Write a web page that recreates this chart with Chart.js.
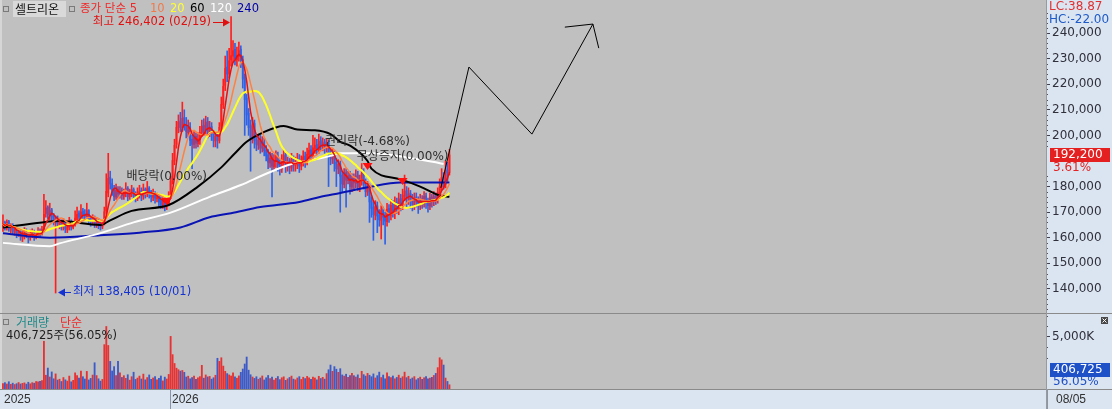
<!DOCTYPE html>
<html lang="ko">
<head>
<meta charset="utf-8">
<title>셀트리온 일봉</title>
<script src="https://cdn.jsdelivr.net/npm/chart.js@4.4.1/dist/chart.umd.min.js"></script>
<style>
  html, body { margin: 0; padding: 0; background: #c0c0c0; overflow: hidden; }
  #wrap { position: relative; width: 1112px; height: 409px; }
  canvas { position: absolute; left: 0; }
  #priceChart { top: 0; }
  #volChart { top: 313px; }
</style>
</head>
<body>
<div id="wrap">
  <canvas id="priceChart" width="1112" height="313"></canvas>
  <canvas id="volChart" width="1112" height="96"></canvas>
</div>
<script>
// 일봉 시가/고가/저가/종가 (단위: 천원)
const opens = [
  164.0, 165.8, 163.8, 166.2, 163.0, 164.8, 162.0, 163.2, 161.0, 162.3,
  160.2, 161.2, 162.8, 161.3, 160.0, 161.0, 162.2, 160.3, 161.2, 162.8,
  161.8, 163.5, 169.5, 171.8, 168.5, 170.8, 168.2, 166.0, 167.5, 165.0,
  166.2, 164.2, 165.8, 163.2, 164.0, 166.2, 164.0, 165.2, 167.0, 169.5,
  168.2, 170.3, 169.2, 168.2, 170.5, 167.3, 166.0, 167.8, 165.2, 166.8,
  165.5, 164.2, 165.5, 170.5, 177.5, 183.5, 181.0, 178.8, 176.0, 178.8,
  176.8, 178.3, 176.2, 177.3, 179.2, 176.0, 177.2, 178.8, 176.8, 175.3,
  177.2, 178.3, 176.3, 178.8, 177.0, 179.2, 177.8, 175.8, 177.2, 175.3,
  176.2, 174.3, 172.8, 174.8, 172.5, 173.2, 176.5, 182.5, 190.0, 196.5,
  203.2, 205.5, 203.0, 206.8, 204.2, 201.0, 203.3, 198.3, 196.5, 199.5,
  196.8, 198.3, 201.2, 203.8, 202.0, 205.3, 201.2, 203.3, 200.8, 197.8,
  199.8, 198.0, 203.5, 212.0, 219.5, 226.5, 224.0, 229.5, 231.0, 233.5,
  229.5, 230.8, 233.5, 229.5, 222.5, 214.5, 208.5, 203.5, 199.0, 204.5,
  198.5, 196.2, 198.3, 195.0, 197.3, 194.2, 192.3, 189.2, 191.2, 187.8,
  189.8, 191.8, 188.3, 186.8, 189.8, 192.2, 188.0, 189.8, 187.2, 190.8,
  188.3, 188.8, 190.7, 188.0, 189.8, 191.8, 190.0, 192.3, 194.2, 192.3,
  194.8, 196.3, 194.3, 197.8, 195.8, 197.3, 195.2, 196.8, 193.3, 190.8,
  192.8, 189.3, 186.8, 188.8, 184.3, 180.8, 185.3, 182.3, 184.3, 179.8,
  183.2, 181.2, 184.3, 179.8, 182.3, 185.3, 181.2, 177.8, 179.8, 174.3,
  171.8, 168.8, 172.3, 168.8, 166.8, 170.8, 168.2, 166.3, 171.3, 168.8,
  172.8, 169.8, 173.8, 171.3, 175.2, 172.8, 176.2, 178.3, 175.2, 177.3,
  174.8, 172.8, 175.8, 174.2, 172.3, 175.2, 173.3, 176.2, 174.3, 172.3,
  175.8, 174.3, 176.3, 174.8, 177.2, 179.8, 183.8, 180.8, 186.3, 185.5
];
const highs = [
  169.0, 166.5, 167.0, 166.8, 165.5, 165.5, 164.5, 164.0, 163.5, 163.0,
  162.5, 164.0, 163.5, 162.0, 163.0, 163.5, 163.0, 162.5, 164.0, 163.5,
  164.5, 177.0, 174.5, 172.5, 173.5, 171.5, 169.5, 168.5, 168.5, 167.5,
  167.0, 167.5, 166.5, 165.5, 168.0, 167.0, 166.5, 170.5, 172.0, 170.5,
  173.0, 171.5, 171.0, 173.5, 171.0, 168.5, 169.0, 168.5, 168.0, 167.5,
  166.5, 167.0, 172.0, 185.0, 193.0, 186.0, 183.0, 180.5, 181.0, 180.0,
  180.0, 179.5, 179.0, 181.5, 180.0, 179.0, 180.5, 179.5, 178.0, 179.5,
  180.5, 179.5, 181.0, 179.5, 182.0, 180.0, 178.5, 179.0, 178.0, 177.5,
  177.0, 176.0, 176.0, 175.5, 175.0, 178.0, 184.0, 193.0, 198.5, 205.5,
  208.0, 209.0, 213.0, 210.0, 207.0, 206.0, 205.0, 200.0, 201.5, 201.0,
  201.0, 203.5, 206.0, 206.5, 207.5, 207.0, 205.5, 205.0, 202.0, 201.5,
  201.0, 205.0, 215.0, 222.0, 231.0, 233.0, 234.0, 246.402, 237.0, 236.0,
  234.5, 236.5, 235.0, 231.0, 224.0, 216.0, 210.5, 206.0, 207.0, 206.0,
  200.0, 200.5, 200.0, 199.5, 199.0, 196.0, 194.5, 193.5, 193.0, 192.5,
  194.0, 193.5, 190.5, 192.5, 194.5, 193.0, 191.5, 191.0, 193.0, 192.0,
  191.5, 193.0, 192.5, 192.0, 194.0, 193.5, 195.0, 197.0, 196.0, 200.0,
  199.0, 198.5, 200.5, 199.5, 199.0, 198.5, 198.5, 198.0, 195.0, 195.0,
  194.0, 191.0, 190.5, 190.0, 186.0, 187.0, 187.0, 186.0, 186.0, 185.0,
  185.0, 186.5, 186.0, 184.5, 189.0, 187.0, 183.0, 182.0, 181.0, 176.0,
  174.0, 174.5, 174.0, 171.0, 172.5, 172.0, 170.0, 173.5, 173.0, 175.0,
  174.5, 176.0, 175.5, 177.5, 177.0, 179.0, 184.5, 180.0, 179.5, 178.5,
  177.0, 177.5, 177.5, 176.0, 177.0, 176.5, 178.0, 177.5, 175.5, 177.5,
  177.0, 178.0, 177.5, 179.5, 183.0, 187.0, 185.5, 190.0, 189.5, 194.5
];
const lows = [
  162.5, 163.0, 163.0, 162.5, 162.0, 161.5, 161.0, 160.0, 160.5, 159.0,
  158.5, 159.5, 160.0, 158.0, 159.0, 160.0, 159.0, 159.5, 160.5, 160.5,
  161.0, 163.0, 168.0, 167.5, 167.0, 166.5, 165.0, 138.405, 164.0, 163.5,
  163.0, 163.0, 162.0, 162.0, 163.0, 163.0, 163.5, 164.5, 166.0, 166.5,
  167.0, 167.5, 167.0, 167.5, 165.5, 164.5, 165.0, 164.0, 164.0, 163.5,
  163.0, 163.5, 165.0, 169.5, 176.0, 179.0, 176.5, 174.5, 175.0, 175.5,
  175.5, 175.0, 175.0, 176.0, 174.5, 175.0, 176.0, 175.0, 174.0, 174.5,
  175.5, 174.5, 175.0, 175.5, 176.0, 175.5, 174.0, 174.5, 173.5, 174.0,
  172.0, 171.5, 171.5, 170.5, 171.0, 172.5, 175.5, 181.0, 188.5, 195.0,
  201.0, 201.5, 201.5, 202.0, 199.0, 199.5, 196.0, 187.0, 195.0, 195.0,
  195.5, 196.5, 199.5, 200.0, 200.5, 199.0, 199.5, 198.0, 195.5, 195.5,
  195.0, 197.0, 202.0, 210.5, 217.5, 221.0, 222.5, 227.0, 228.5, 227.5,
  227.0, 229.0, 226.5, 218.5, 200.0, 204.0, 200.0, 186.0, 197.0, 195.0,
  194.0, 194.5, 193.0, 193.5, 192.0, 190.0, 187.0, 187.5, 176.0, 186.5,
  187.5, 186.0, 184.5, 185.5, 188.0, 185.5, 186.0, 185.0, 186.0, 186.0,
  186.0, 187.0, 185.5, 186.5, 188.0, 187.5, 188.5, 190.5, 190.0, 191.0,
  193.0, 192.5, 193.0, 194.0, 194.0, 193.0, 193.5, 180.0, 188.5, 189.0,
  186.0, 180.0, 185.0, 170.0, 178.0, 179.5, 172.0, 181.0, 177.0, 178.0,
  179.0, 179.5, 178.5, 178.0, 180.5, 179.0, 176.0, 176.5, 166.0, 168.0,
  159.0, 167.0, 162.0, 164.5, 159.5, 165.0, 157.5, 164.5, 166.0, 167.0,
  168.0, 167.5, 169.5, 169.0, 170.5, 171.0, 174.5, 172.0, 173.0, 171.5,
  170.5, 171.0, 172.0, 169.5, 171.0, 171.5, 172.0, 171.5, 170.0, 171.0,
  172.0, 172.5, 173.0, 173.5, 175.5, 178.5, 179.0, 179.5, 182.0, 184.5
];
const closes = [
  165.5, 164.0, 166.0, 163.5, 164.5, 162.5, 163.0, 161.5, 162.0, 160.5,
  161.0, 162.5, 161.0, 160.0, 161.5, 162.0, 160.5, 161.0, 162.5, 162.0,
  163.0, 169.0, 171.5, 169.0, 170.5, 168.0, 166.5, 167.0, 165.5, 166.0,
  164.5, 165.5, 163.5, 164.0, 166.0, 164.5, 165.0, 167.5, 169.0, 168.0,
  170.0, 169.0, 168.5, 170.5, 167.0, 166.0, 167.5, 165.5, 166.5, 165.0,
  164.5, 165.5, 170.0, 178.0, 183.0, 181.0, 178.5, 176.0, 178.5, 177.0,
  178.0, 176.5, 177.5, 179.0, 176.0, 177.0, 178.5, 176.5, 175.5, 177.5,
  178.0, 176.5, 178.5, 177.0, 179.0, 177.5, 176.0, 177.0, 175.5, 176.0,
  174.0, 173.0, 174.5, 172.5, 173.5, 176.0, 182.0, 190.0, 196.0, 203.0,
  205.0, 203.0, 206.5, 204.0, 201.5, 203.0, 198.0, 196.5, 199.0, 197.0,
  198.5, 201.0, 203.5, 202.0, 205.0, 201.5, 203.0, 200.5, 198.0, 199.5,
  198.0, 203.0, 212.0, 219.0, 226.0, 224.0, 229.0, 231.0, 233.0, 230.0,
  231.0, 233.0, 229.0, 222.0, 214.0, 208.0, 203.0, 199.0, 204.0, 198.0,
  196.5, 198.0, 195.0, 197.0, 194.0, 192.0, 189.5, 191.0, 188.0, 190.0,
  191.5, 188.5, 187.0, 190.0, 192.0, 188.0, 189.5, 187.5, 190.5, 188.5,
  189.0, 190.5, 188.0, 190.0, 191.5, 190.0, 192.5, 194.0, 192.5, 195.0,
  196.0, 194.5, 197.5, 196.0, 197.0, 195.5, 196.5, 193.0, 191.0, 192.5,
  189.0, 187.0, 188.5, 184.0, 181.0, 185.0, 182.5, 184.0, 180.0, 183.0,
  181.5, 184.0, 180.0, 182.5, 185.0, 181.0, 178.0, 179.5, 174.0, 171.5,
  169.0, 172.0, 168.5, 167.0, 170.5, 168.0, 166.5, 171.0, 169.0, 172.5,
  170.0, 173.5, 171.5, 175.0, 173.0, 176.5, 178.0, 175.5, 177.0, 174.5,
  173.0, 175.5, 174.0, 172.5, 175.0, 173.5, 176.0, 174.0, 172.5, 175.5,
  174.5, 176.0, 175.0, 177.5, 180.0, 183.5, 181.0, 186.0, 185.5, 192.2
];
// 거래량 (단위: 천주)
const volumes = [
  520, 610, 480, 700, 450, 560, 430, 510, 620, 480,
  540, 590, 470, 650, 500, 610, 560, 720, 680, 740,
  820, 4580, 1320, 2010, 1150, 1640, 980, 1450, 860, 940,
  720, 1100, 880, 760, 1240, 690, 830, 1550, 1280, 1060,
  1720, 1180, 960, 1690, 870, 1020, 1340, 2520, 1290, 980,
  760, 920, 4260, 6000, 4180, 2650, 1730, 2150, 1300, 2650,
  1560, 1110, 1280, 1020, 1370, 850, 1180, 1610, 920, 1050,
  1240, 960, 1430, 880, 1100, 1350, 930, 1060, 1190, 870,
  1020, 1250, 780, 1140, 960, 1400, 5050, 3300, 2450, 2000,
  1850, 1720, 1780, 1600, 1150, 1230, 980, 1100, 1250, 930,
  1080, 1190, 2270, 1040, 1350, 1160, 1210, 950, 1080, 1320,
  2950, 2650, 3000, 2200, 1700, 1480, 1350, 1250, 1550, 1180,
  1040, 1260, 1600, 1920, 2400, 3070, 1810, 1370, 1150, 1020,
  1180, 940, 1060, 1250, 870, 1080, 1300, 990, 1150, 860,
  1020, 1200, 900, 1080, 1170, 830, 980, 1110, 1240, 950,
  880, 1060, 1190, 920, 1130, 1000, 1210, 1080, 940, 1150,
  1060, 880, 1220, 1010, 1120, 950, 1480, 1850, 2300, 1700,
  2150, 1900, 1600, 1950, 1350, 1240, 1420, 1110, 1300, 1500,
  1280, 1150, 1360, 1020, 1700, 1380, 1240, 1500, 1320, 1180,
  1450, 1060, 1280, 1620, 1100, 1340, 980, 1560, 1200, 1090,
  1250, 980, 1110, 1330, 1040, 1180, 1620, 1090, 1220, 950,
  1060, 1190, 880, 1010, 1140, 930, 1080, 1200, 970, 1060,
  1120, 1300, 1500, 2050, 3000, 2800, 2300, 1050, 725.6, 406.725
];

// 장기 이동평균 (60/120/240일) : 그림에서 읽은 값 (봉 번호, 천원)
const ma60Idx = [0, 20, 29, 50, 55, 66, 85, 100, 112, 119, 125, 133, 144, 151, 160, 168, 173, 178, 187, 189, 204, 214, 224, 229];
const ma60Val = [164.0, 166.0, 166.5, 165.0, 166.8, 170.5, 172.8, 180.0, 187.5, 193.0, 197.5, 201.0, 203.7, 202.3, 202.0, 200.5, 197.5, 196.0, 190.0, 187.0, 182.8, 180.0, 176.5, 176.0];
const ma120Idx = [0, 24, 29, 50, 67, 86, 106, 122, 135, 148, 161, 168, 173, 190, 207, 222, 226];
const ma120Val = [158.0, 156.7, 157.8, 161.8, 166.0, 169.8, 176.0, 180.6, 185.0, 188.8, 190.8, 192.0, 193.0, 193.0, 191.4, 189.5, 188.8];
const ma240Idx = [0, 24, 50, 70, 91, 106, 117, 132, 152, 163, 173, 178, 187, 204, 229];
const ma240Val = [161.8, 160.0, 161.0, 162.0, 164.0, 168.0, 169.6, 172.0, 174.0, 176.0, 177.5, 178.3, 179.7, 181.6, 181.6];

// 사용자 추세선 (봉 번호, 천원)
const drawIdx = [224.6, 239.0, 271.3, 302.6];
const drawVal = [179.5, 226.7, 200.5, 243.5];
const arrowIdx = [288.2, 302.6, 305.6];
const arrowVal = [242.3, 243.5, 234.1];

// 이벤트 (봉 번호, 표시 가격 천원, 문구)
const evIdx = [84, 187, 205];
const evVal = [175.5, 189.2, 183.4];
const evText = ['배당락(0.00%)', '권리락(-4.68%)', '무상증자(0.00%)'];

// 축 눈금
const priceTicks = [140000, 150000, 160000, 170000, 180000, 190000, 200000, 210000, 220000, 230000, 240000];
const volTicks = [5000];

const stockName = '셀트리온';
const hiDate = '02/19';
const loDate = '10/01';
const yearIdx = [0, 86];
const yearText = ['2025', '2026'];
const lastDate = '08/05';
const lcText = 'LC:38.87';
const hcText = 'HC:-22.00';
const maLegend = ['종가 단순 5', '10', '20', '60', '120', '240'];

// ---------------------------------------------------------------
const KFONT = '"Noto Sans CJK KR", sans-serif';
const NFONT = '"DejaVu Sans", "Noto Sans CJK KR", sans-serif';
const AXIS_BG = '#dbe5f1';
const PLOT_BG = '#c0c0c0';
const UP = '#ff1e1e';
const DOWN = '#2f62e6';

const n = closes.length;
const idx = closes.map((_, i) => i);
const isUp = idx.map(i => closes[i] >= opens[i]);
const fmt = v => Math.round(v).toLocaleString('en-US');

function movingAvg(len) {
  return idx.map(i => {
    const s = Math.max(0, i - len + 1);
    let sum = 0;
    for (let k = s; k <= i; k++) sum += closes[k];
    return { x: i, y: sum / (i - s + 1) * 1000 };
  });
}
const pts = (xs, ys) => xs.map((x, i) => ({ x: x, y: ys[i] * 1000 }));

function txt(ctx, s, x, y, color, font, align) {
  ctx.fillStyle = color;
  ctx.font = font;
  ctx.textAlign = align || 'left';
  ctx.textBaseline = 'middle';
  ctx.fillText(s, x, y);
}
function smallBox(ctx, x, y) {
  ctx.strokeStyle = '#7a7a7a';
  ctx.lineWidth = 1;
  ctx.strokeRect(x + 0.5, y + 0.5, 5, 5);
}
// 오른쪽 축: 폭 고정, 위아래 여백 없음
function fixAxis(s) {
  s.width = 66;
  s.paddingTop = 0;
  s.paddingBottom = 0;
}

const xScale = {
  type: 'linear', min: -0.5, max: 535, offset: false, display: false
};

// 가격 차트 장식
const priceDecor = {
  id: 'priceDecor',
  beforeDraw(chart) {
    const { ctx, chartArea: a, width, height } = chart;
    ctx.save();
    ctx.fillStyle = PLOT_BG;
    ctx.fillRect(0, 0, width, height);
    ctx.fillStyle = AXIS_BG;
    ctx.fillRect(a.right, 0, width - a.right, height);
    ctx.fillStyle = '#d6d6d6';
    ctx.fillRect(0, 0, 2, height);
    ctx.restore();
  },
  afterDraw(chart) {
    const { ctx, chartArea: a, width } = chart;
    const xs = chart.scales.x, ys = chart.scales.y;
    ctx.save();

    // 보조 눈금
    ctx.fillStyle = '#505060';
    for (let v = 132000; v <= 250000; v += 2000) {
      if (v % 10000 === 0) continue;
      const y = Math.round(ys.getPixelForValue(v));
      ctx.fillRect(a.right, y, 2, 1);
    }
    ctx.fillStyle = '#9a9a9a';
    ctx.fillRect(a.right, 0, 1, chart.height);

    // 제목 / 이동평균 범례
    smallBox(ctx, 3, 6);
    ctx.fillStyle = '#d9d9d9';
    ctx.fillRect(13, 1, 53, 16);
    txt(ctx, stockName, 15, 9.5, '#111111', '12px ' + KFONT);
    smallBox(ctx, 69, 6);
    const legX = [80, 150, 170, 190, 210, 237];
    const legC = ['#ee2a2a', '#f07a4a', '#ffff30', '#000000', '#ffffff', '#0000a8'];
    maLegend.forEach((s, i) => txt(ctx, s, legX[i], 9.5, legC[i], '11.5px ' + NFONT));

    // 최고가 / 최저가
    let hi = 0, lo = 0;
    idx.forEach(i => { if (highs[i] > highs[hi]) hi = i; if (lows[i] < lows[lo]) lo = i; });
    const hx = Math.round(xs.getPixelForValue(hi)) - 1;
    const hy = Math.round(ys.getPixelForValue(highs[hi] * 1000)) + 5;
    ctx.fillStyle = '#e01010';
    ctx.fillRect(hx - 17, hy, 12, 1);
    ctx.beginPath();
    ctx.moveTo(hx, hy + 0.5); ctx.lineTo(hx - 7, hy - 3.5); ctx.lineTo(hx - 7, hy + 4.5);
    ctx.closePath(); ctx.fill();
    txt(ctx, '최고 ' + fmt(highs[hi] * 1000) + ' (' + hiDate + ')', hx - 19, hy, '#e01010', '11.5px ' + NFONT, 'right');

    const lx = Math.round(xs.getPixelForValue(lo)) + 2;
    const ly = Math.round(ys.getPixelForValue(lows[lo] * 1000)) - 1;
    ctx.fillStyle = '#1432d2';
    ctx.beginPath();
    ctx.moveTo(lx, ly + 0.5); ctx.lineTo(lx + 7, ly - 3.5); ctx.lineTo(lx + 7, ly + 4.5);
    ctx.closePath(); ctx.fill();
    ctx.fillRect(lx + 6, ly, 7, 1);
    txt(ctx, '최저 ' + fmt(lows[lo] * 1000) + ' (' + loDate + ')', lx + 15, ly, '#1432d2', '11.5px ' + NFONT);

    // 이벤트 표시
    evIdx.forEach((ei, k) => {
      const x = xs.getPixelForValue(ei);
      const y = Math.round(ys.getPixelForValue(evVal[k] * 1000));
      ctx.fillStyle = '#ff1010';
      ctx.beginPath();
      ctx.moveTo(x - 5, y); ctx.lineTo(x + 5, y); ctx.lineTo(x, y + 7);
      ctx.closePath(); ctx.fill();
      txt(ctx, evText[k], x, y - 21, '#2e2e2e', '12px ' + NFONT, 'center');
    });

    // 우측 현재가 표시
    const last = closes[n - 1], prev = closes[n - 2];
    const cy = Math.round(ys.getPixelForValue(last * 1000));
    ctx.fillStyle = AXIS_BG;
    ctx.fillRect(a.right + 1, cy - 7, width - a.right - 1, 26);
    ctx.fillStyle = '#e42020';
    ctx.fillRect(a.right + 4, cy - 7, width - a.right - 6, 14);
    txt(ctx, fmt(last * 1000), a.right + 7, cy, '#ffffff', '12px ' + NFONT);
    txt(ctx, ((last / prev - 1) * 100).toFixed(2) + '%', a.right + 7, cy + 13, '#e42020', '12px ' + NFONT);

    txt(ctx, lcText, a.right + 3, 7, '#e03030', '12px ' + NFONT);
    txt(ctx, hcText, a.right + 3, 20, '#1e5ac8', '12px ' + NFONT);
    ctx.restore();
  }
};

const priceChart = new Chart(document.getElementById('priceChart'), {
  type: 'bar',
  data: {
    datasets: [
      {
        label: '꼬리', order: 11, grouped: false, barThickness: 1,
        data: idx.map(i => ({ x: i, y: [lows[i] * 1000, highs[i] * 1000] })),
        backgroundColor: idx.map(i => isUp[i] ? UP : DOWN)
      },
      {
        label: '몸통', order: 10, grouped: false, barThickness: 1.2,
        data: idx.map(i => ({ x: i, y: [Math.min(opens[i], closes[i]) * 1000, Math.max(opens[i], closes[i]) * 1000 + 150] })),
        backgroundColor: idx.map(i => isUp[i] ? UP : DOWN)
      },
      { type: 'line', label: '240', order: 7, data: pts(ma240Idx, ma240Val), borderColor: '#0a14b4', borderWidth: 2, cubicInterpolationMode: 'monotone' },
      { type: 'line', label: '120', order: 6, data: pts(ma120Idx, ma120Val), borderColor: '#ffffff', borderWidth: 2, cubicInterpolationMode: 'monotone' },
      { type: 'line', label: '60', order: 5, data: pts(ma60Idx, ma60Val), borderColor: '#000000', borderWidth: 2, cubicInterpolationMode: 'monotone' },
      { type: 'line', label: '20', order: 4, data: movingAvg(20), borderColor: '#ffff28', borderWidth: 2 },
      { type: 'line', label: '10', order: 3, data: movingAvg(10), borderColor: '#ff8040', borderWidth: 1.5 },
      { type: 'line', label: '5', order: 2, data: movingAvg(5), borderColor: '#e81010', borderWidth: 1.5 },
      { type: 'line', label: '추세선', order: 1, data: pts(drawIdx, drawVal), borderColor: '#000000', borderWidth: 1 },
      { type: 'line', label: '화살표', order: 1, data: pts(arrowIdx, arrowVal), borderColor: '#000000', borderWidth: 1 }
    ]
  },
  options: {
    responsive: false,
    animation: false,
    devicePixelRatio: 1,
    events: [],
    layout: { padding: { left: 2, top: 0, right: 0, bottom: 0 } },
    elements: { point: { radius: 0 }, line: { tension: 0 }, bar: { borderWidth: 0 } },
    plugins: { legend: { display: false }, tooltip: { enabled: false } },
    scales: {
      x: xScale,
      y: {
        position: 'right', min: 130600, max: 252900,
        afterFit: fixAxis,
        afterBuildTicks(s) { s.ticks = priceTicks.map(v => ({ value: v })); },
        ticks: { padding: 2, color: '#30303c', font: { family: 'DejaVu Sans', size: 12 }, callback: v => fmt(v) },
        grid: { drawOnChartArea: false, tickLength: 4, tickColor: '#404050' },
        border: { display: false }
      }
    }
  },
  plugins: [priceDecor]
});

// 거래량 차트 장식
const volDecor = {
  id: 'volDecor',
  beforeDraw(chart) {
    const { ctx, chartArea: a, width, height } = chart;
    ctx.save();
    ctx.fillStyle = PLOT_BG;
    ctx.fillRect(0, 0, width, height);
    ctx.fillStyle = AXIS_BG;
    ctx.fillRect(a.right, 0, width - a.right, height);
    ctx.fillRect(0, a.bottom, width, height - a.bottom);
    ctx.fillStyle = '#d6d6d6';
    ctx.fillRect(0, 0, 2, a.bottom);
    ctx.restore();
  },
  afterDraw(chart) {
    const { ctx, chartArea: a, width, height } = chart;
    const xs = chart.scales.x, ys = chart.scales.y;
    ctx.save();
    ctx.fillStyle = '#505060';
    for (let v = 1000; v <= 7000; v += 1000) {
      if (v === 5000) continue;
      ctx.fillRect(a.right, Math.round(ys.getPixelForValue(v)), 2, 1);
    }
    ctx.fillStyle = '#8a8a8a';
    ctx.fillRect(0, 0, width, 1);
    ctx.fillRect(0, a.bottom, width, 1);
    ctx.fillStyle = '#9a9a9a';
    ctx.fillRect(a.right, 0, 1, height);

    // 범례
    smallBox(ctx, 3, 6);
    txt(ctx, '거래량', 16, 9.5, '#1f8a8a', '12px ' + KFONT);
    txt(ctx, '단순', 60, 9.5, '#ee2a2a', '12px ' + KFONT);
    const lastV = volumes[n - 1], prevV = volumes[n - 2];
    const ratio = (lastV / prevV * 100).toFixed(2) + '%';
    txt(ctx, fmt(lastV * 1000) + '주(' + ratio + ')', 6, 23.5, '#1e1e1e', '11.5px ' + NFONT);

    // 창 닫기 아이콘
    ctx.fillStyle = '#4a4a4a';
    ctx.fillRect(width - 11, 4, 7, 7);
    ctx.strokeStyle = '#ffffff';
    ctx.beginPath();
    ctx.moveTo(width - 9.5, 5.5); ctx.lineTo(width - 5.5, 9.5);
    ctx.moveTo(width - 5.5, 5.5); ctx.lineTo(width - 9.5, 9.5);
    ctx.stroke();

    // 우측 현재 거래량
    const vy = Math.min(Math.round(ys.getPixelForValue(lastV)), a.bottom - 19);
    ctx.fillStyle = AXIS_BG;
    ctx.fillRect(a.right + 1, vy - 7, width - a.right - 1, 25);
    ctx.fillStyle = '#1e50c8';
    ctx.fillRect(a.right + 4, vy - 7, width - a.right - 6, 14);
    txt(ctx, fmt(lastV * 1000), a.right + 7, vy, '#ffffff', '12px ' + NFONT);
    txt(ctx, ratio, a.right + 7, vy + 12, '#1e50c8', '12px ' + NFONT);

    // 하단 날짜 축
    const sy = (a.bottom + height) / 2 + 0.5;
    yearIdx.forEach((yi, k) => {
      const x = Math.round(xs.getPixelForValue(yi - 0.5));
      if (k > 0) { ctx.fillStyle = '#8a96a6'; ctx.fillRect(x, a.bottom, 1, height - a.bottom); }
      txt(ctx, yearText[k], x + 2, sy, '#303030', '12px "Liberation Sans", sans-serif');
    });
    ctx.fillStyle = '#8a96a6';
    ctx.fillRect(a.right + 1, a.bottom, 1, height - a.bottom);
    txt(ctx, lastDate, a.right + 10, sy, '#303030', '12px "Liberation Sans", sans-serif');
    ctx.restore();
  }
};

const volChart = new Chart(document.getElementById('volChart'), {
  type: 'bar',
  data: {
    datasets: [{
      label: '거래량', grouped: false, barThickness: 1.2,
      data: idx.map(i => ({ x: i, y: volumes[i] })),
      backgroundColor: idx.map(i => isUp[i] ? '#e63232' : '#3c5ac8')
    }]
  },
  options: {
    responsive: false,
    animation: false,
    devicePixelRatio: 1,
    events: [],
    layout: { padding: { left: 2, top: 1, right: 0, bottom: 20 } },
    elements: { bar: { borderWidth: 0 } },
    plugins: { legend: { display: false }, tooltip: { enabled: false } },
    scales: {
      x: xScale,
      y: {
        position: 'right', min: 0, max: 7200,
        afterFit: fixAxis,
        afterBuildTicks(s) { s.ticks = volTicks.map(v => ({ value: v })); },
        ticks: { padding: 2, color: '#30303c', font: { family: 'DejaVu Sans', size: 12 }, callback: v => fmt(v) + 'K' },
        grid: { drawOnChartArea: false, tickLength: 4, tickColor: '#404050' },
        border: { display: false }
      }
    }
  },
  plugins: [volDecor]
});
</script>
</body>
</html>
